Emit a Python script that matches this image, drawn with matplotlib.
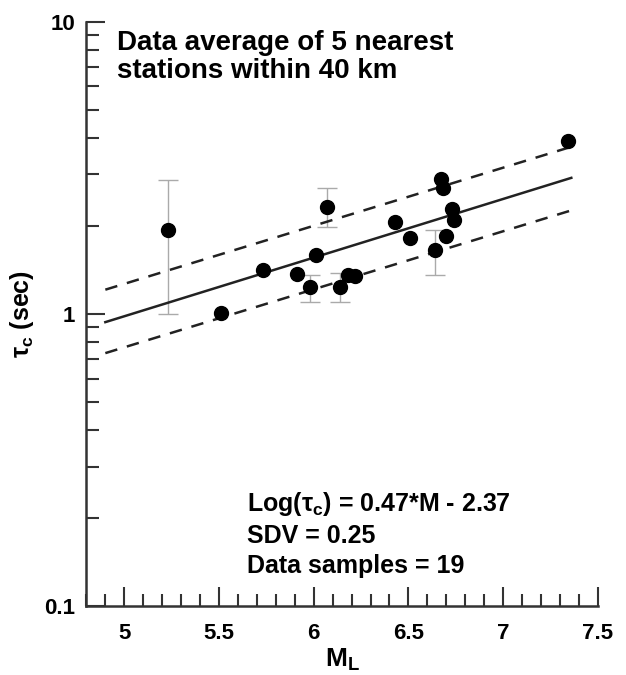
import numpy as np
import matplotlib.pyplot as plt
from matplotlib.ticker import MultipleLocator, LogLocator, FixedFormatter, FixedLocator, NullFormatter

plt.rcParams['font.family'] = ['Liberation Sans', 'DejaVu Sans']
plt.rcParams['font.weight'] = 'bold'
plt.rcParams['mathtext.fontset'] = 'custom'
plt.rcParams['mathtext.rm'] = 'Liberation Sans'
plt.rcParams['mathtext.it'] = 'Liberation Sans:italic'
plt.rcParams['mathtext.bf'] = 'Liberation Sans:bold'

# magnitude and tau_c of the averaged stations
mag = [5.23, 5.51, 5.73, 5.91, 5.98, 6.01, 6.07, 6.14, 6.18, 6.22,
       6.43, 6.51, 6.64, 6.67, 6.68, 6.70, 6.73, 6.74, 7.34]
tau = [1.93, 1.01, 1.41, 1.37, 1.235, 1.59, 2.32, 1.235, 1.355, 1.345,
       2.06, 1.82, 1.65, 2.90, 2.69, 1.84, 2.28, 2.09, 3.90]

# error bars (only a few points have them)
err_mag = [5.23, 5.98, 6.07, 6.14, 6.64]
err_tau = [1.93, 1.235, 2.32, 1.235, 1.65]
err_lo = [1.00, 1.10, 1.98, 1.10, 1.355]
err_hi = [2.88, 1.355, 2.69, 1.375, 1.94]

# regression line and +/- 1 SDV
fit_x = [4.9, 7.36]
fit_y = [0.937, 2.92]
up_y = [1.21, 3.73]
lo_y = [0.734, 2.26]

fig = plt.figure(figsize=(6.26, 6.75), dpi=100)
ax = fig.add_axes([0.138, 0.102, 0.817, 0.866])

lo = np.array(err_tau) - np.array(err_lo)
hi = np.array(err_hi) - np.array(err_tau)
ax.errorbar(err_mag, err_tau, yerr=[lo, hi], fmt='none', ecolor='#aaaaaa',
            elinewidth=1, capsize=7, capthick=1, zorder=1)

ax.plot(fit_x, fit_y, color='#222222', lw=1.8, zorder=2)
ax.plot(fit_x, up_y, color='#222222', lw=1.8, ls=(0, (5, 4)), zorder=2)
ax.plot(fit_x, lo_y, color='#222222', lw=1.8, ls=(0, (5, 4)), zorder=2)
ax.plot(mag, tau, 'o', color='black', ms=10, zorder=3)

ax.set_yscale('log')
ax.set_xlim(4.8, 7.5)
ax.set_ylim(0.1, 10)

ax.set_xticks([5, 5.5, 6, 6.5, 7, 7.5])
ax.set_xticklabels(['5', '5.5', '6', '6.5', '7', '7.5'])
ax.xaxis.set_minor_locator(MultipleLocator(0.1))
ax.yaxis.set_major_locator(FixedLocator([0.1, 1, 10]))
ax.yaxis.set_major_formatter(FixedFormatter(['0.1', '1', '10']))
ax.yaxis.set_minor_locator(LogLocator(base=10, subs=np.arange(2, 10)))
ax.yaxis.set_minor_formatter(NullFormatter())

for s in ['top', 'right']:
    ax.spines[s].set_visible(False)
for s in ['left', 'bottom']:
    ax.spines[s].set_linewidth(1.8)
    ax.spines[s].set_color('#333333')

ax.tick_params(which='major', direction='in', length=14, width=1.5, color='#333333',
               labelsize=16, pad=12)
ax.tick_params(which='minor', direction='in', length=9, width=1.5, color='#333333')
ax.tick_params(axis='y', which='major', pad=8)

ax.set_xlabel(r'M$_\mathregular{L}$', fontsize=19, fontweight='bold', labelpad=2)
ax.set_ylabel(r'$\mathregular{\tau_c}$ (sec)', fontsize=18, fontweight='bold', labelpad=6)

ax.text(0.06, 0.985, 'Data average of 5 nearest\nstations within 40 km',
        transform=ax.transAxes, fontsize=20, fontweight='bold', va='top', ha='left',
        linespacing=1.1)
ax.text(0.315, 0.198, r'Log($\mathregular{\tau_c}$) = 0.47*M - 2.37' + '\nSDV = 0.25\nData samples = 19',
        transform=ax.transAxes, fontsize=18, fontweight='bold', va='top', ha='left',
        linespacing=1.3)

fig.savefig('out.png', dpi=100)
